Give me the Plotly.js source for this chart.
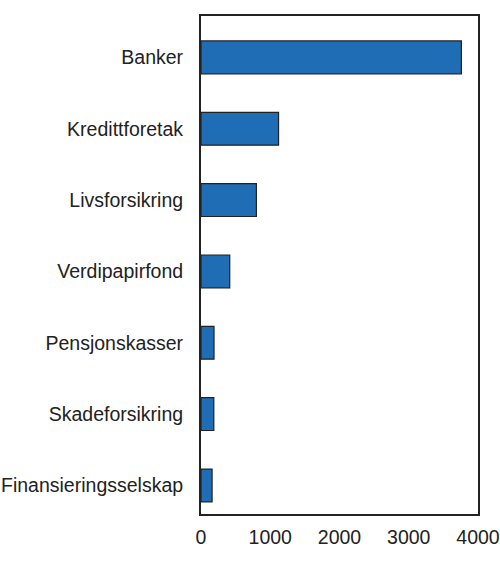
<!DOCTYPE html>
<html>
<head>
<meta charset="utf-8">
<script src="https://cdn.plot.ly/plotly-3.0.1.min.js"></script>
<style>
  html, body { margin: 0; padding: 0; background: #fff; }
  #chart { width: 500px; height: 566px; }
</style>
</head>
<body>
<div id="chart"></div>
<script>
// categories, bottom to top
let categories = ["Finansieringsselskap", "Skadeforsikring", "Pensjonskasser", "Verdipapirfond", "Livsforsikring", "Kredittforetak", "Banker"];
let values = [160, 185, 188, 415, 800, 1120, 3760];
let xTicks = [0, 1000, 2000, 3000, 4000];

let bars = {
    type: "bar",
    orientation: "h",
    x: values,
    y: categories,
    width: 0.46,
    marker: {
        color: "#1f6db5",
        line: {color: "#222222", width: 1.2}
    },
    hoverinfo: "x+y"
};

let layout = {
    width: 500,
    height: 566,
    margin: {l: 201, r: 22, t: 16, b: 52},
    paper_bgcolor: "#ffffff",
    plot_bgcolor: "#ffffff",
    font: {family: "Liberation Sans, Arial, sans-serif", size: 19.5, color: "#222222"},
    showlegend: false,
    bargap: 0.5,
    xaxis: {
        range: [0, 4000],
        tickvals: xTicks,
        ticktext: xTicks.map(String),
        showgrid: false,
        zeroline: false,
        showline: true,
        mirror: true,
        linecolor: "#222222",
        linewidth: 2,
        ticks: "",
        ticklabelstandoff: 5
    },
    yaxis: {
        type: "category",
        categoryorder: "array",
        categoryarray: categories,
        range: [-0.4, 6.58],
        showgrid: false,
        zeroline: false,
        showline: true,
        mirror: true,
        linecolor: "#222222",
        linewidth: 2,
        ticks: "",
        ticklabelstandoff: 12
    }
};

Plotly.newPlot("chart", [bars], layout, {displayModeBar: false, staticPlot: true});
</script>
</body>
</html>
